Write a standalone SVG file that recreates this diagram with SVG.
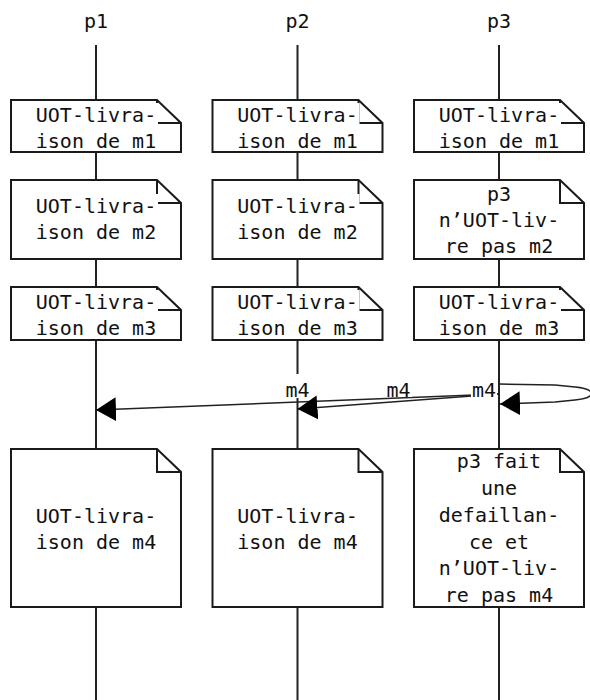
<svg xmlns="http://www.w3.org/2000/svg" width="590" height="700" viewBox="0 0 590 700">
<style>
.t{font-family:"DejaVu Sans Mono","Liberation Mono",monospace;font-size:20px;text-anchor:middle;fill:#111}
.life{stroke:#222;stroke-width:2;fill:none}
.box{fill:#fff;stroke:#1a1a1a;stroke-width:2}
.fold{fill:none;stroke:#1a1a1a;stroke-width:2}
.bg{fill:#fff}
.msg{fill:none;stroke:#222;stroke-width:1.5}
</style>
<defs>
<marker id="ah" markerUnits="userSpaceOnUse" markerWidth="22" markerHeight="26" viewBox="0 0 22 26" refX="20" refY="12" orient="auto">
<path d="M0,0 L20,12 L0,24 Z" fill="#000"/>
</marker>
</defs>
<rect width="590" height="700" fill="#fff"/>

<g id="p1">
<text class="t" x="96" y="28">p1</text>
<line class="life" x1="96" y1="45" x2="96" y2="700"/>
</g>
<g id="p2">
<text class="t" x="297.5" y="28">p2</text>
<line class="life" x1="297.5" y1="45" x2="297.5" y2="700"/>
</g>
<g id="p3">
<text class="t" x="499" y="28">p3</text>
<line class="life" x1="499" y1="45" x2="499" y2="700"/>
</g>

<!-- row 1 -->
<g id="n_p1_m1">
<path class="box" d="M11,100 H157 L181,123 V152 H11 Z"/><path class="fold" d="M157,100 V123 H181"/>
<rect class="bg" x="34" y="103" width="124" height="24"/>
<text class="t" x="96" y="122">UOT-livra-</text>
<text class="t" x="96" y="148">ison de m1</text>
</g>
<g id="n_p2_m1">
<path class="box" d="M212.5,100 H358.5 L382.5,123 V152 H212.5 Z"/><path class="fold" d="M358.5,100 V123 H382.5"/>
<rect class="bg" x="235.5" y="103" width="124" height="24"/>
<text class="t" x="297.5" y="122">UOT-livra-</text>
<text class="t" x="297.5" y="148">ison de m1</text>
</g>
<g id="n_p3_m1">
<path class="box" d="M414,100 H560 L584,123 V152 H414 Z"/><path class="fold" d="M560,100 V123 H584"/>
<rect class="bg" x="437" y="103" width="124" height="24"/>
<text class="t" x="499" y="122">UOT-livra-</text>
<text class="t" x="499" y="148">ison de m1</text>
</g>

<!-- row 2 -->
<g id="n_p1_m2">
<path class="box" d="M11,180 H157 L181,203 V259 H11 Z"/><path class="fold" d="M157,180 V203 H181"/>
<rect class="bg" x="34" y="194" width="124" height="24"/>
<text class="t" x="96" y="213">UOT-livra-</text>
<text class="t" x="96" y="239">ison de m2</text>
</g>
<g id="n_p2_m2">
<path class="box" d="M212.5,180 H358.5 L382.5,203 V259 H212.5 Z"/><path class="fold" d="M358.5,180 V203 H382.5"/>
<rect class="bg" x="235.5" y="194" width="124" height="24"/>
<text class="t" x="297.5" y="213">UOT-livra-</text>
<text class="t" x="297.5" y="239">ison de m2</text>
</g>
<g id="n_p3_m2">
<path class="box" d="M414,180 H560 L584,203 V259 H414 Z"/><path class="fold" d="M560,180 V203 H584"/>
<text class="t" x="499" y="201">p3</text>
<text class="t" x="499" y="227">n’UOT-liv-</text>
<text class="t" x="499" y="253">re pas m2</text>
</g>

<!-- row 3 -->
<g id="n_p1_m3">
<path class="box" d="M11,287 H157 L181,310 V340 H11 Z"/><path class="fold" d="M157,287 V310 H181"/>
<rect class="bg" x="34" y="290" width="124" height="24"/>
<text class="t" x="96" y="309">UOT-livra-</text>
<text class="t" x="96" y="335">ison de m3</text>
</g>
<g id="n_p2_m3">
<path class="box" d="M212.5,287 H358.5 L382.5,310 V340 H212.5 Z"/><path class="fold" d="M358.5,287 V310 H382.5"/>
<rect class="bg" x="235.5" y="290" width="124" height="24"/>
<text class="t" x="297.5" y="309">UOT-livra-</text>
<text class="t" x="297.5" y="335">ison de m3</text>
</g>
<g id="n_p3_m3">
<path class="box" d="M414,287 H560 L584,310 V340 H414 Z"/><path class="fold" d="M560,287 V310 H584"/>
<rect class="bg" x="437" y="290" width="124" height="24"/>
<text class="t" x="499" y="309">UOT-livra-</text>
<text class="t" x="499" y="335">ison de m3</text>
</g>

<!-- messages -->
<g id="connectors">
<path class="msg" d="M499,394 L96,410" marker-end="url(#ah)"/>
<path class="msg" d="M499,394 L297.5,409" marker-end="url(#ah)"/>
<path class="msg" d="M499,384 L555,385 L575,387 C597,389 597,398 575,400 L555,402 L500,404" marker-end="url(#ah)"/>
<rect class="bg" x="284" y="374" width="27" height="24"/>
<text class="t" x="297.5" y="397">m4</text>
<rect class="bg" x="386" y="378" width="26" height="19"/>
<text class="t" x="398.5" y="397">m4</text>
<rect class="bg" x="471" y="378" width="26" height="20"/>
<text class="t" x="484" y="397">m4</text>
</g>

<!-- row 4 -->
<g id="n_p1_m4">
<path class="box" d="M11,449 H157 L181,472 V607 H11 Z"/><path class="fold" d="M157,449 V472 H181"/>
<text class="t" x="96" y="523">UOT-livra-</text>
<text class="t" x="96" y="549">ison de m4</text>
</g>
<g id="n_p2_m4">
<path class="box" d="M212.5,449 H358.5 L382.5,472 V607 H212.5 Z"/><path class="fold" d="M358.5,449 V472 H382.5"/>
<text class="t" x="297.5" y="523">UOT-livra-</text>
<text class="t" x="297.5" y="549">ison de m4</text>
</g>
<g id="n_p3_m4">
<path class="box" d="M414,449 H560 L584,472 V607 H414 Z"/><path class="fold" d="M560,449 V472 H584"/>
<text class="t" x="499" y="468">p3 fait</text>
<text class="t" x="499" y="495">une</text>
<text class="t" x="499" y="522">defaillan-</text>
<text class="t" x="499" y="549">ce et</text>
<text class="t" x="499" y="575">n’UOT-liv-</text>
<text class="t" x="499" y="602">re pas m4</text>
</g>
</svg>
